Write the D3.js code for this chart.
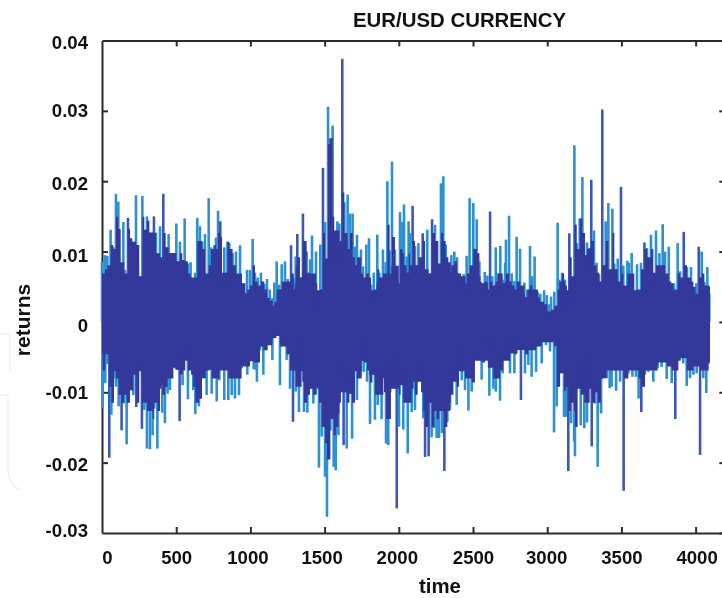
<!DOCTYPE html>
<html><head><meta charset="utf-8">
<script src="https://cdn.jsdelivr.net/npm/d3@7"></script>
<style>
html,body{margin:0;padding:0;background:#fff;}
svg{display:block;filter:blur(0.55px);}
text{font-family:"Liberation Sans",Arial,sans-serif;font-weight:bold;fill:#111;}
</style></head><body>
<svg id="c" width="722" height="598"></svg>
<script>
const title = "EUR/USD CURRENCY", xLabel = "time", yLabel = "returns";
const xTicks = [0,500,1000,1500,2000,2500,3000,3500,4000];
const yTicks = [-0.03,-0.02,-0.01,0,0.01,0.02,0.03,0.04];
const RETURN_UNIT = 1e-4; // the arrays below in units of 0.0001
const BODY_READING_CORRECTION = 1.15; // my body readings came out low against the reference

const upTime = [0,20,36,58,76,94,110,126,144,155,175,189,204,229,251,272,285,303,319,350,364,391,413,429,449,465,501,525,541,557,579,597,627,642,660,675,694,719,734,757,768,782,797,809,824,845,858,880,903,930,943,966,977,997,1015,
1031,1049,1071,1094,1112,1130,1148,1161,1177,1193,1211,1233,1251,1274,1292,1305,1316,1334,1354,1379,1402,1415,1442,1458,1471,1489,1503,1523,1539,1554,1565,1586,1599,1619,1633,1655,1671,1689,1705,1718,1745,1759,1781,1799,1813,1831,1855,1869,1893,1911,1923,1938,1954,1974,1990,2008,2024,2035,2053,2066,
2075,2093,2109,2132,2161,2177,2192,2206,2224,2244,2266,2284,2300,2316,2334,2354,2374,2392,2419,2437,2457,2477,2502,2525,2543,2558,2579,2597,2615,2630,2653,2667,2684,2700,2716,2722,2743,2761,2779,2794,2817,2846,2866,2884,2899,2915,2938,2954,2979,2997,3014,3026,3048,3070,3082,3100,3114,
3120,3133,3149,3165,3183,3199,3219,3237,3255,3268,3284,3297,3315,3333,3349,3371,3394,3412,3439,3452,3475,3497,3513,3540,3551,3569,3587,3605,3632,3655,3672,3699,3715,3733,3756,3778,3794,3819,3836,3854,3879,3895,3920,3942,3969,3985,4005,4021,4041,4059,4079,4092];
const upPeak = [85,95,94,131,106,182,171,65,142,74,148,119,114,180,65,179,131,150,127,150,127,136,182,106,125,98,140,114,88,147,83,85,70,148,136,114,125,176,106,109,120,158,143,55,106,114,112,98,100,109,55,41,74,74,118,
70,63,70,54,61,46,34,56,86,53,82,86,61,109,63,93,125,63,154,100,89,123,100,22,110,219,142,306,261,279,93,143,140,374,170,181,154,154,107,124,103,79,110,119,53,70,124,70,103,85,200,102,228,103,60,156,142,167,93,143,
126,165,108,112,126,60,131,69,146,138,83,197,207,110,65,95,100,92,65,68,94,176,169,146,86,55,71,66,157,65,106,69,108,60,84,117,151,69,58,121,104,56,46,108,65,93,42,40,45,38,25,36,43,141,60,70,60,
60,41,126,60,251,112,147,206,79,113,105,202,130,84,68,302,143,169,161,83,90,192,80,87,84,98,45,82,84,113,105,124,60,130,98,139,100,107,43,55,112,72,128,78,78,39,55,107,100,57,78,40];
const upBody = [60,65,70,95,90,130,115,65,60,60,115,110,105,95,60,130,120,125,120,110,85,80,110,105,85,90,75,85,80,75,60,55,55,100,100,90,60,70,90,100,90,110,105,50,50,100,90,70,60,60,50,35,40,45,70,
50,45,50,40,30,25,20,25,40,40,50,50,50,60,40,70,80,55,100,60,60,60,30,20,40,110,60,220,240,130,75,100,100,160,110,90,110,80,70,80,60,55,60,55,25,40,65,55,60,60,120,60,105,55,45,90,85,70,60,85,
70,100,70,80,100,55,60,60,110,100,75,110,100,80,60,70,75,60,50,40,60,70,90,85,50,35,50,40,50,45,50,60,60,40,50,60,50,45,40,50,45,30,40,45,40,40,25,25,15,10,10,15,20,40,50,60,50,
45,20,80,30,120,90,130,110,60,90,95,100,70,60,50,70,100,60,110,65,50,60,45,60,60,60,35,40,65,90,80,90,50,70,70,70,60,50,35,40,60,55,70,55,50,30,30,55,60,45,45,30];
const upDarkTips = [175,350,413,797,1274,1316,1354,1489,1539,1619,2093,2161,2224,2615,3149,3297,3371,3497,3655,3920,4021];

const downTime = [4,22,36,49,63,81,94,112,132,148,166,189,211,231,251,269,285,303,323,341,352,373,391,406,424,442,458,481,499,523,543,561,579,602,615,629,653,674,705,723,739,773,791,824,851,874,896,923,941,979,997,1022,
1031,1044,1065,1087,1116,1148,1175,1199,1222,1244,1267,1287,1305,1327,1345,1361,1384,1402,1424,1447,1462,1480,1503,1516,1539,1561,1575,1593,1610,1628,1649,1667,1685,1705,1718,1750,1763,1786,1806,1822,1839,1858,1884,1896,1914,1929,1947,1963,1986,2001,2012,2030,2060,
2087,2109,2127,2147,2165,2177,2201,2221,2239,2255,2271,2291,2307,2327,2345,2368,2390,2406,2424,2446,2469,2491,2513,2558,2581,2610,2637,2653,2682,2700,2720,2749,2779,2794,2823,2850,2873,2895,2925,2963,2992,3019,3046,3064,3087,3113,
3127,3142,3160,3181,3187,3205,3226,3250,3268,3286,3300,3322,3340,3363,3381,3401,3421,3434,3464,3491,3515,3547,3574,3598,3616,3634,3659,3682,3715,3744,3771,3805,3839,3863,3884,3917,3940,3962,3985,4007,4030,4052,4072,4088];
const downPeak = [123,87,60,193,132,80,92,120,154,116,174,97,104,121,54,152,125,180,181,161,123,180,90,129,144,102,97,40,68,141,90,42,110,52,97,131,120,80,104,68,102,113,83,111,111,104,109,104,66,75,56,67,
68,85,40,75,33,54,11,90,28,54,95,142,99,128,30,128,129,95,116,92,207,163,220,277,154,206,211,161,61,175,180,102,166,68,111,21,71,85,145,68,139,118,138,66,173,175,80,45,265,149,80,153,187,
128,125,61,83,137,192,191,164,151,165,165,158,212,142,125,75,118,30,83,97,126,99,40,82,25,105,95,99,112,73,25,73,73,28,111,73,61,78,71,59,33,42,157,120,73,135,
135,212,144,170,191,66,147,151,143,54,177,116,206,130,78,80,94,92,98,85,240,73,78,78,109,128,75,71,85,66,64,81,87,138,54,59,91,80,75,73,189,80,101,59];
const downBody = [60,40,40,80,100,60,70,90,100,90,100,90,60,100,50,100,100,110,110,120,100,110,80,90,80,70,70,40,60,65,60,40,60,50,80,100,95,60,60,65,70,70,60,60,70,70,70,70,55,55,50,50,
50,50,30,35,30,20,10,30,25,40,60,60,80,80,25,100,90,85,90,80,100,130,150,170,120,140,130,100,55,60,100,90,100,60,70,20,50,60,75,60,90,90,90,60,120,120,50,40,70,90,60,100,100,
60,90,50,60,110,130,100,130,110,120,110,110,130,110,90,60,80,30,60,70,70,75,35,50,25,50,70,70,60,40,25,30,40,28,30,40,35,35,30,25,25,25,30,80,70,85,
80,110,100,110,130,50,90,100,100,40,100,80,100,70,60,60,60,60,60,60,70,60,60,60,70,80,60,60,60,50,50,55,60,60,45,45,60,60,55,55,60,60,60,50];
const downDarkTips = [49,132,231,269,523,1287,1628,1986,2177,2201,2307,2823,3142,3300,3515,3634,3863,4030];

// solid dark core of the trace, read at every 50 time units
const coreTime = [0,50,100,150,200,250,300,350,400,450,500,550,600,650,700,750,800,850,900,950,1000,1050,1100,1150,1200,1250,1300,1350,1400,1450,1500,1550,1600,1650,1700,1750,1800,1850,1900,1950,2000,2050,2100,2150,2200,2250,2300,2350,2400,2450,2500,2550,2600,2650,2700,2750,2800,2850,2900,2950,3000,3050,3100,3150,3200,3250,3300,3350,3400,3450,3500,3550,3600,3650,3700,3750,3800,3850,3900,3950,4000,4050];
const coreUp = [55,65,85,60,80,55,85,80,75,65,55,60,45,70,55,70,70,65,50,40,40,40,30,20,35,40,55,70,55,45,90,130,100,75,65,55,45,55,60,80,55,70,65,75,60,80,85,70,65,55,65,55,45,55,55,45,40,35,35,25,15,20,45,65,90,95,70,55,75,55,45,45,45,70,70,65,55,45,55,50,40,50];
const coreDown = [45,70,80,70,75,70,95,95,75,65,55,55,75,80,60,55,55,55,55,50,40,35,25,20,35,45,70,85,80,95,130,130,100,95,70,55,75,80,100,95,90,95,85,100,110,105,115,85,70,65,55,55,65,65,55,45,40,40,35,25,25,25,65,100,95,95,100,80,55,55,55,55,55,65,55,50,55,55,40,50,55,55];

const xLabelNudge = [5,0,-3,-3,-2,0,-1,0,1];
const yLabelNudge = [-2,2,0,4,4,2,0,2];

const faintMarks = ["M0,334 L7,334 Q10,334 10,338 L10,372","M0,395 L7,395 Q8,395 8,400 L8,470 Q8,484 20,490"];

const colLight = "#2c90d4", colTip = "#3b58b8", colBody = "#32399a", colAxis = "#2b2b2b";
const svg = d3.select("#c");
const x = d3.scaleLinear().domain([0,4200]).range([102,725.3]);
const y = d3.scaleLinear().domain([-0.03,0.04]).range([533,40.5]);
const fmtY = d => d === 0 ? "0" : d.toFixed(2);

svg.selectAll("path.faint").data(faintMarks).join("path").attr("class","faint")
  .attr("d",d=>d).attr("fill","none").attr("stroke","#f1f1f1").attr("stroke-width",1.5);

function styleAxis(g){
  g.selectAll(".domain").attr("stroke",colAxis).attr("stroke-width",2);
  g.selectAll(".tick line").attr("stroke",colAxis).attr("stroke-width",2);
  g.selectAll("text").attr("font-size",18.6).attr("fill","#111");
}
const noLabel = () => "";
svg.append("g").attr("transform","translate(0,533)")
  .call(d3.axisBottom(x).tickValues(xTicks).tickSize(-6).tickSizeOuter(0).tickPadding(18).tickFormat(d3.format("d")))
  .call(styleAxis)
  .call(g=>g.selectAll(".tick text").attr("dx",(d,i)=>xLabelNudge[i]))
  .call(g=>g.selectAll(".tick").filter(d=>d===0).select("line").remove());
svg.append("g").attr("transform","translate(0,40.5)")
  .call(d3.axisTop(x).tickValues(xTicks.slice(1)).tickSize(-6).tickSizeOuter(0).tickFormat(noLabel)).call(styleAxis);
svg.append("g").attr("transform","translate(102,0)")
  .call(d3.axisLeft(y).tickValues(yTicks).tickSize(-6).tickSizeOuter(0).tickPadding(14).tickFormat(fmtY))
  .call(styleAxis)
  .call(g=>g.selectAll(".tick text").attr("transform",(d,i)=>`translate(0,${yLabelNudge[i]})`))
  .call(g=>g.selectAll(".tick").filter(d=>d===-0.03||d===0.04).select("line").remove());
svg.append("g").attr("transform","translate(725.3,0)")
  .call(d3.axisRight(y).tickValues(yTicks).tickSize(-6).tickSizeOuter(0).tickFormat(noLabel)).call(styleAxis);

function spikes(times,peaks,tips,sign){
  const tipSet = new Set(tips);
  const data = times.map((t,i)=>({t,v:peaks[i]*RETURN_UNIT*sign,tip:tipSet.has(t)}));
  svg.append("g").selectAll("line").data(data).join("line")
    .attr("x1",d=>x(d.t)).attr("x2",d=>x(d.t)).attr("y1",y(0)).attr("y2",d=>y(d.v))
    .attr("stroke",d=>d.tip?colTip:colLight).attr("stroke-width",2.6);
}
function area(times,levels,sign,endT){
  const data = times.map((t,i)=>({t,v:sign*levels[i]*RETURN_UNIT}));
  const last = data[data.length-1];
  const pts = [...data,{t:endT,v:last.v}];
  const gen = d3.area().x(d=>x(d.t)).y0(y(0)).y1(d=>y(d.v)).curve(d3.curveStepAfter);
  svg.append("path").datum(pts).attr("d",gen).attr("fill",colBody);
}
spikes(upTime,upPeak,upDarkTips,1);
spikes(downTime,downPeak,downDarkTips,-1);
area(coreTime,coreUp,1,4097);
area(coreTime,coreDown,-1,4097);
area(upTime,upBody.map((b,i)=>Math.min(b*BODY_READING_CORRECTION,upPeak[i])),1,4097);
area(downTime,downBody.map((b,i)=>Math.min(b*BODY_READING_CORRECTION,downPeak[i])),-1,4097);

svg.append("text").attr("x",459.5).attr("y",27).attr("text-anchor","middle").attr("font-size",20.4).text(title);
svg.append("text").attr("x",440).attr("y",593).attr("text-anchor","middle").attr("font-size",20.4).text(xLabel);
svg.append("text").attr("transform","translate(30,320) rotate(-90)").attr("text-anchor","middle").attr("font-size",21).text(yLabel);
</script></body></html>
